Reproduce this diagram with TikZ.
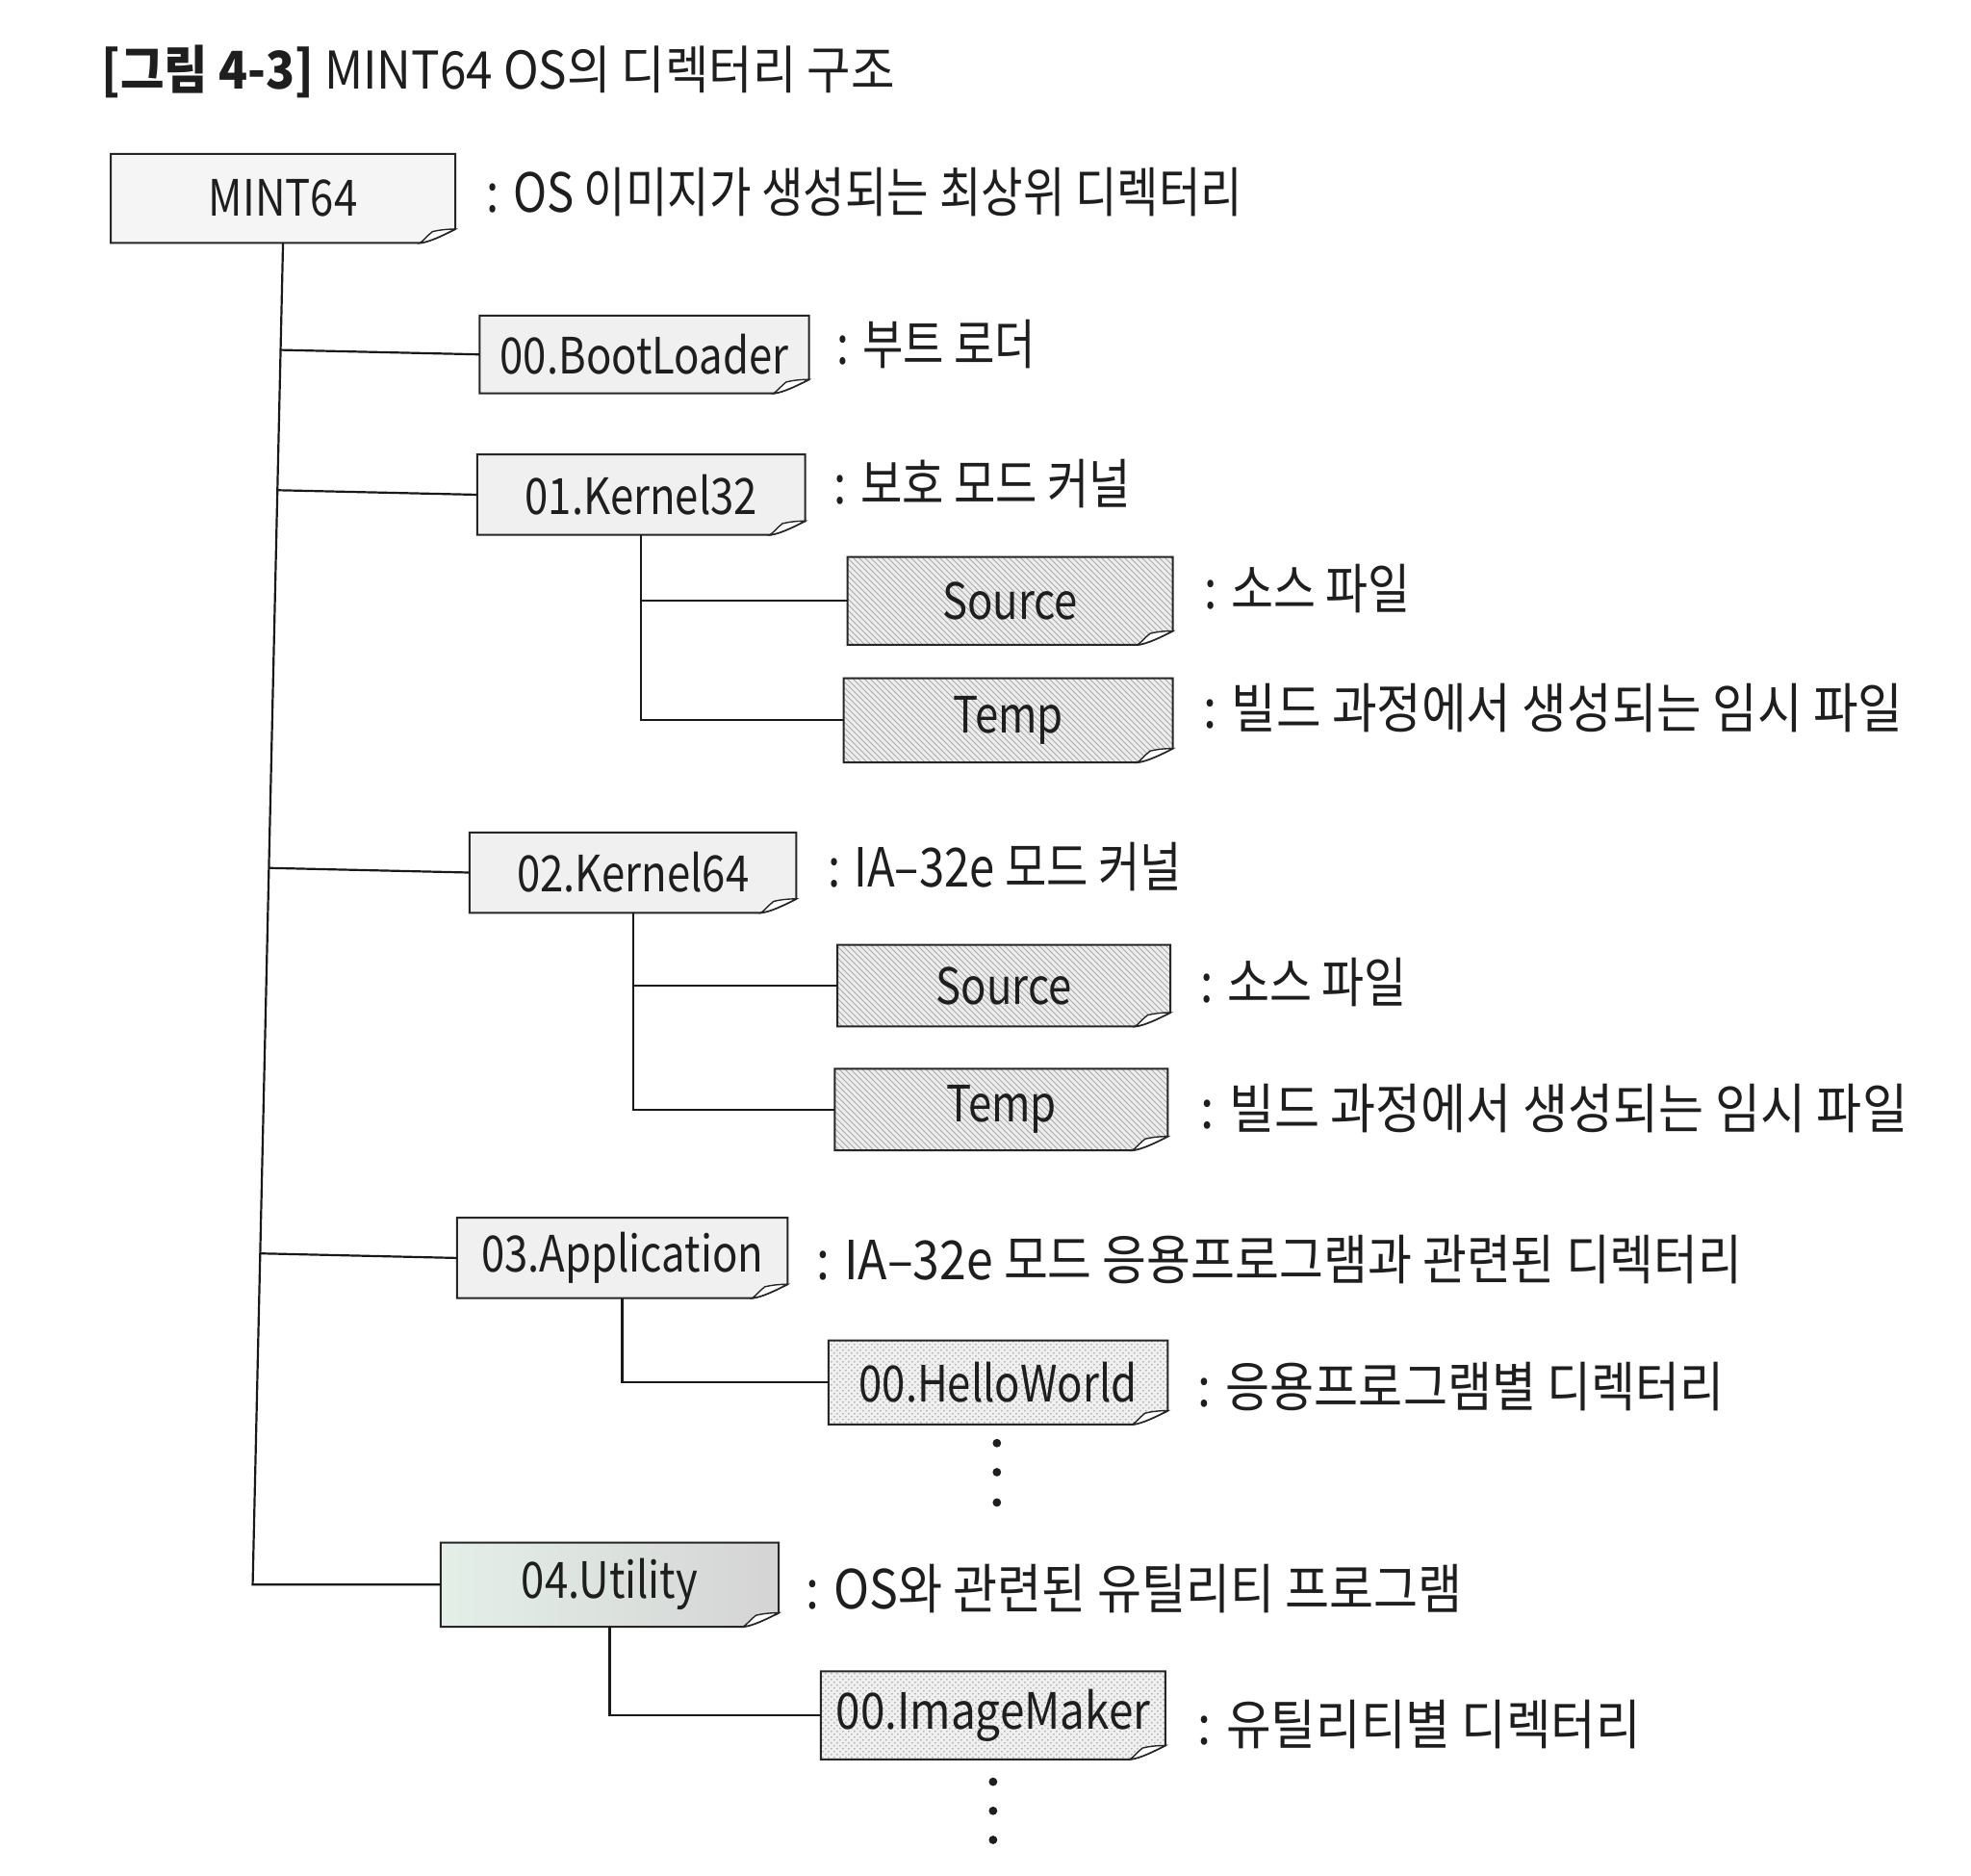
\documentclass[tikz,border=0pt]{standalone}
\usepackage{graphicx}
\usepackage{fontspec}
\setmainfont{Noto Sans CJK KR}
\newfontfamily\boxfont[FakeStretch=0.84]{Noto Sans CJK KR}
\newfontfamily\labfont[FakeStretch=0.905]{Noto Sans CJK KR}
\newfontfamily\titfont[FakeStretch=0.915]{Noto Sans CJK KR}
\usetikzlibrary{patterns,backgrounds,calc}
\definecolor{txt}{HTML}{1E1E1E}
\definecolor{mintc}{HTML}{E4EFE8}
\definecolor{dotgray}{HTML}{D4D4D4}
\newcommand\sqz[2]{\scalebox{#1}[1]{#2}}
\newcommand\foldbox[2]{%
  \path[frame,#2] (#1.north west) -- (#1.north east) -- ($(#1.south east)+(0,-11)$)
    .. controls ($(#1.south east)+(-10,-6)$) and ($(#1.south east)+(-20,-1)$) .. ($(#1.south east)+(-28,0)$)
    -- (#1.south west) -- cycle;
  \filldraw[fill=white, draw=black!85, line width=0.7pt] ($(#1.south east)+(0,-11)$)
    .. controls ($(#1.south east)+(-8,-11)$) and ($(#1.south east)+(-14,-10)$) .. ($(#1.south east)+(-18,-9)$)
    .. controls ($(#1.south east)+(-22,-6)$) and ($(#1.south east)+(-25,-2)$) .. ($(#1.south east)+(-28,0)$)
    .. controls ($(#1.south east)+(-20,-1)$) and ($(#1.south east)+(-10,-6)$) .. cycle;
}
\begin{document}
\begin{tikzpicture}[x=0.6565pt,y=-0.6565pt,
  box/.style 2 args={minimum width=#1*0.6565pt, minimum height=#2*0.6565pt, inner sep=0pt,
    font=\boxfont\fontsize{26}{30}\selectfont, text=txt},
  lab/.style={anchor=west, inner sep=0pt, font=\labfont\fontsize{28}{32}\selectfont, text=txt},
  conn/.style={line width=1.1pt, draw=black!90},
  frame/.style={draw=black!85, line width=1pt},
  plain/.style={fill=gray!12},
  hatch/.style={preaction={fill=gray!14}, pattern=north west lines, pattern color=gray!65},
  dotty/.style={preaction={fill=gray!12}, pattern=crosshatch dots, pattern color=gray!60},
  utilfill/.style={left color=mintc, right color=dotgray}
]
\useasboundingbox (0,0) rectangle (1560,1484.4);

% title
\node[anchor=west, inner sep=0pt, font=\titfont\fontsize{27}{32}\selectfont, text=txt] (title) at (80,57)
  {\textbf{[그림 4-3]} MINT64 OS의 디렉터리 구조};

% boxes
\node[box={272}{70}] (mint)  at (224,157)    {MINT64};
\node[box={260}{61}] (boot)  at (510,280.5)  {00.BootLoader};
\node[box={259}{63}] (k32)   at (507.5,391.5){01.Kernel32};
\node[box={257}{69}] (src1)  at (799.5,475.5){Source};
\node[box={260}{66}] (tmp1)  at (798,570)    {Temp};
\node[box={258}{63}] (k64)   at (501,690.5)  {02.Kernel64};
\node[box={263}{64}] (src2)  at (794.5,780)  {Source};
\node[box={263}{64}] (tmp2)  at (792.5,878)  {Temp};
\node[box={261}{63}] (app)   at (492.5,995.5){03.Application};
\node[box={268}{66}] (hello) at (790,1094)   {00.HelloWorld};
\node[box={267}{66}] (util)  at (482.5,1254) {04.Utility};
\node[box={272}{69}] (imk)   at (786,1357.5) {\sqz{1.05}{00.ImageMaker}};

% labels
\node[lab] (lmint)  at (385,152)  {\sqz{0.933}{: OS 이미지가 생성되는 최상위 디렉터리}};
\node[lab] (lboot)  at (662,272)  {\sqz{0.91}{: 부트 로더}};
\node[lab] (lk32)   at (660,383)  {\sqz{0.93}{: 보호 모드 커널}};
\node[lab] (lsrc1)  at (953,466)  {\sqz{0.943}{: 소스 파일}};
\node[lab] (ltmp1)  at (952,560)  {: 빌드 과정에서 생성되는 임시 파일};
\node[lab] (lk64)   at (655,686)  {\sqz{0.93}{: IA–32e 모드 커널}};
\node[lab] (lsrc2)  at (950,777)  {\sqz{0.944}{: 소스 파일}};
\node[lab] (ltmp2)  at (950,877)  {\sqz{1.01}{: 빌드 과정에서 생성되는 임시 파일}};
\node[lab] (lapp)   at (646,997)  {\sqz{0.984}{: IA–32e 모드 응용프로그램과 관련된 디렉터리}};
\node[lab] (lhello) at (948,1097) {\sqz{0.988}{: 응용프로그램별 디렉터리}};
\node[lab] (lutil)  at (638,1257) {\sqz{0.987}{: OS와 관련된 유틸리티 프로그램}};
\node[lab] (limk)   at (948,1365) {: 유틸리티별 디렉터리};

% continuation dots
\foreach \yy in {1142,1165,1189} \fill[txt] (789,\yy) circle (2.2pt);
\foreach \yy in {1410,1433,1456} \fill[txt] (786,\yy) circle (2.2pt);

% connectors
\coordinate (tb) at (200,1254);
\draw[conn] (mint.south) -- (tb) -- (util.west);
\foreach \n in {boot,k32,k64,app}
  \draw[conn] ($(mint.south)!(\n.west)!(tb)$) -- (\n.west);
\draw[conn] (k32.south) |- (src1.west);
\draw[conn] (k32.south) |- (tmp1.west);
\draw[conn] (k64.south) |- (src2.west);
\draw[conn] (k64.south) |- (tmp2.west);
\draw[conn] (app.south) |- (hello.west);
\draw[conn] (util.south) |- (imk.west);

\begin{scope}[on background layer]
  \fill[white] (0,0) rectangle (1560,1484.4);
  \foldbox{mint}{fill=gray!8}
  \foldbox{boot}{plain}
  \foldbox{k32}{plain}
  \foldbox{k64}{plain}
  \foldbox{app}{plain}
  \foldbox{src1}{hatch}
  \foldbox{tmp1}{hatch}
  \foldbox{src2}{hatch}
  \foldbox{tmp2}{hatch}
  \foldbox{hello}{dotty}
  \foldbox{imk}{dotty}
  \foldbox{util}{utilfill}
\end{scope}
\end{tikzpicture}
\end{document}
